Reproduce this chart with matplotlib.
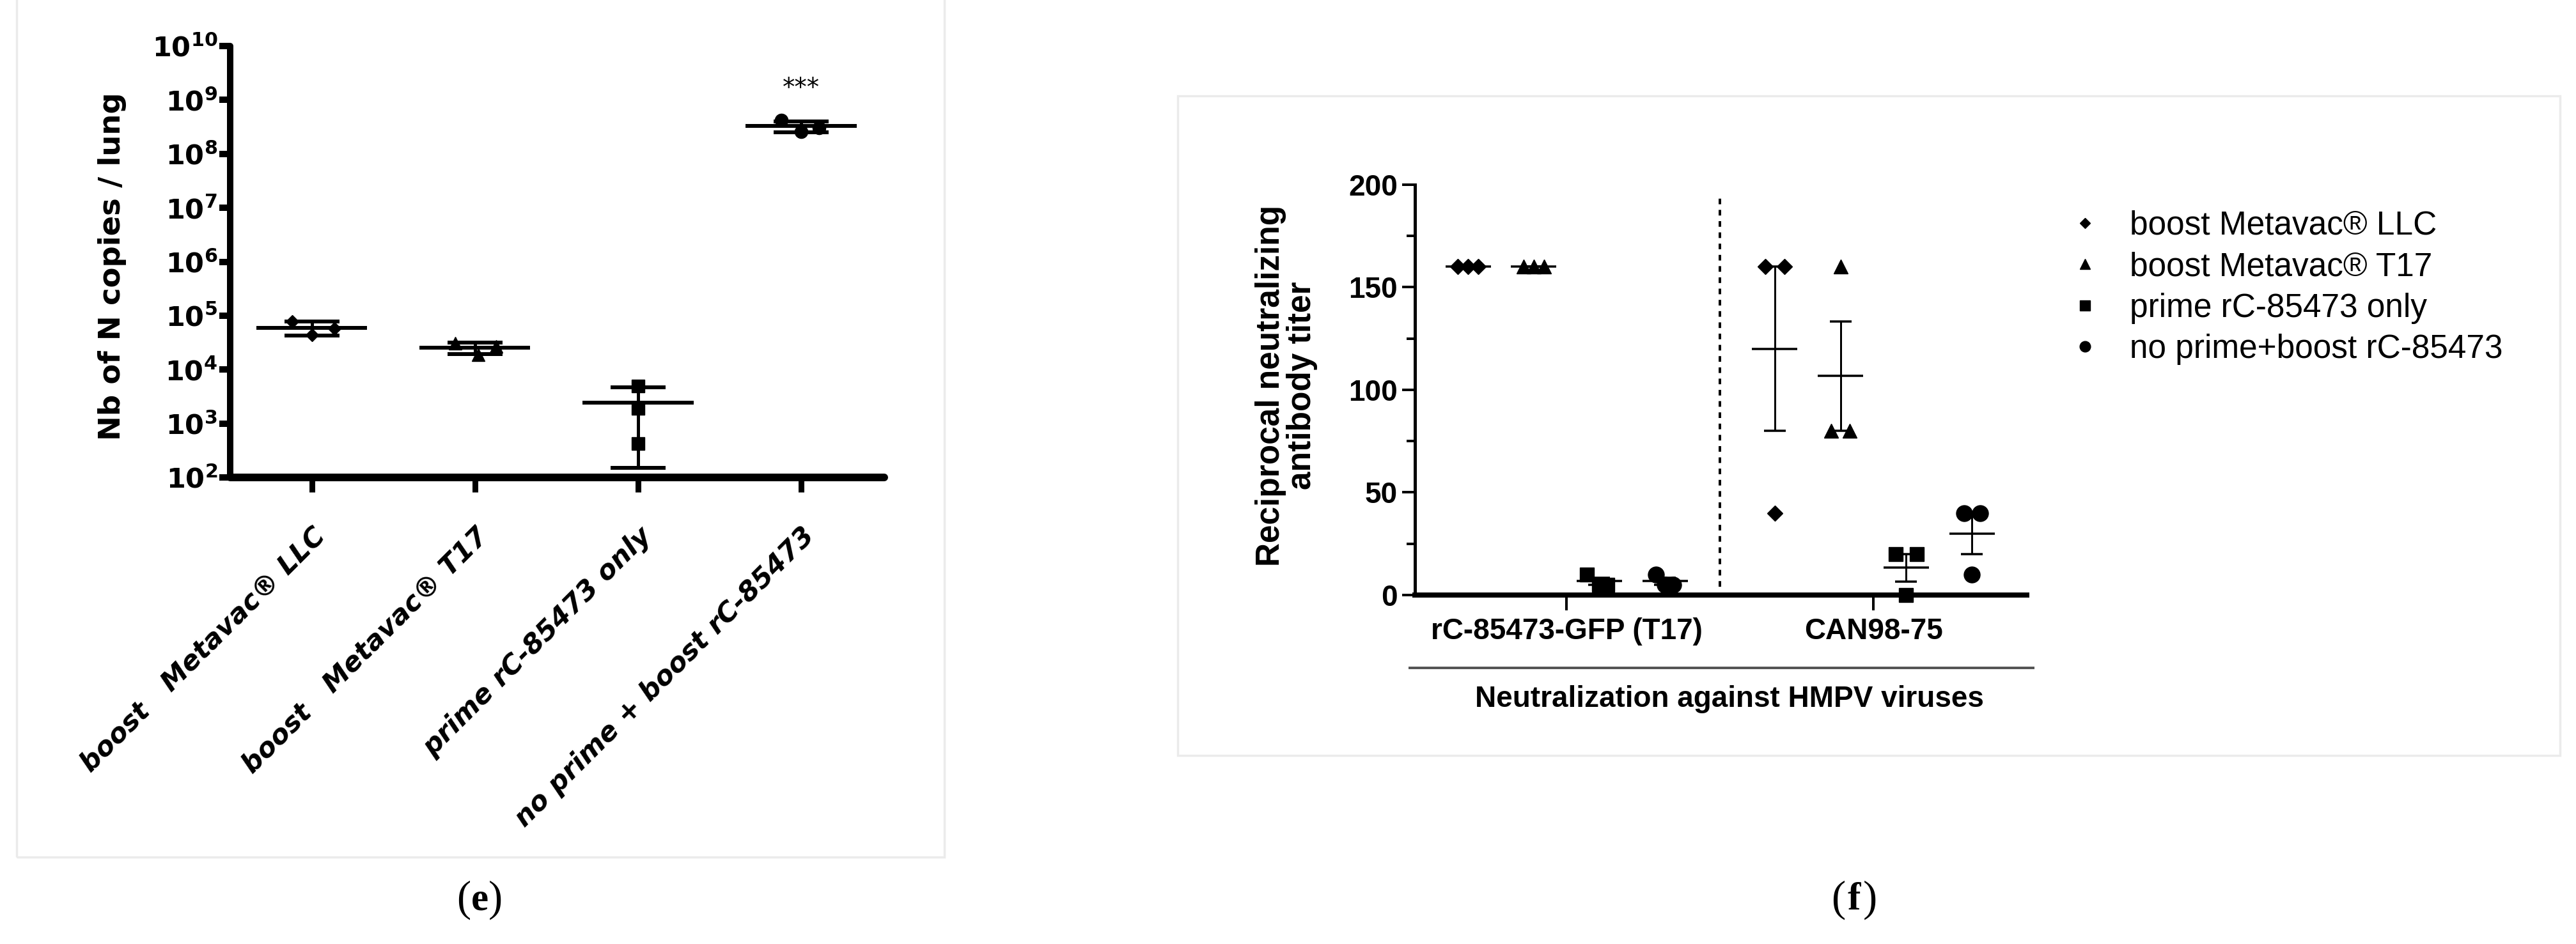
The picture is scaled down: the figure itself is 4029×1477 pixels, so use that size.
import matplotlib
matplotlib.use('Agg')
import matplotlib.pyplot as plt
from matplotlib.lines import Line2D
from matplotlib.patches import Rectangle
from matplotlib.ticker import NullLocator

plt.rcParams['mathtext.fontset'] = 'dejavusans'

# ---------------- panel (e) data ----------------
e_groups = ['boost   Metavac® LLC', 'boost   Metavac® T17',
            'prime rC-85473 only', 'no prime + boost rC-85473']
e_markers = ['D', '^', 's', 'o']
e_marker_sizes = [10.5, 14.5, 14, 14.5]
e_points = [[7.8e4, 4.4e4, 5.8e4],
            [3.1e4, 1.9e4, 2.7e4],
            [5.0e3, 1.9e3, 4.3e2],
            [4.2e8, 2.6e8, 3.0e8]]
e_jitter = [[-0.12, 0.0, 0.14],
            [-0.12, 0.02, 0.13],
            [0.0, 0.0, 0.0],
            [-0.12, 0.0, 0.11]]
e_mean = [6.0e4, 2.57e4, 2.45e3, 3.27e8]
e_err = [1.7e4, 0.61e4, 2.3e3, 0.75e8]
e_yticks = [1e2, 1e3, 1e4, 1e5, 1e6, 1e7, 1e8, 1e9, 1e10]
e_ytick_labels = [r'$\mathbf{10^{2}}$', r'$\mathbf{10^{3}}$', r'$\mathbf{10^{4}}$',
                  r'$\mathbf{10^{5}}$', r'$\mathbf{10^{6}}$', r'$\mathbf{10^{7}}$',
                  r'$\mathbf{10^{8}}$', r'$\mathbf{10^{9}}$', r'$\mathbf{10^{10}}$']
e_signif = '***'
e_signif_y = 1.64e9

# ---------------- panel (f) data ----------------
f_viruses = ['rC-85473-GFP (T17)', 'CAN98-75']
f_series = ['boost Metavac® LLC', 'boost Metavac® T17',
            'prime rC-85473 only', 'no prime+boost rC-85473']
f_markers = ['D', '^', 's', 'o']
f_marker_sizes = [12.5, 16, 15.5, 18]
f_legend_sizes = [8.5, 12, 11, 12]
f_offsets = [-0.321, -0.107, 0.107, 0.321]
# values[series][virus]
f_values = [[[160, 160, 160], [160, 40, 160]],
            [[160, 160, 160], [80, 160, 80]],
            [[10, 5, 5], [20, 0, 20]],
            [[10, 5, 5], [40, 10, 40]]]
f_jitter = [[[-0.033, 0.0, 0.033], [-0.032, 0.0, 0.032]],
            [[-0.033, 0.0, 0.033], [-0.03, 0.0, 0.03]],
            [[-0.04, 0.0, 0.027], [-0.034, 0.0, 0.034]],
            [[-0.03, 0.0, 0.027], [-0.026, 0.0, 0.026]]]
f_mean = [[160, 120], [160, 106.7], [6.7, 13.3], [6.7, 30]]
f_sem = [[0, 40], [0, 26.7], [1.7, 6.7], [1.7, 10]]
f_yticks = [0, 50, 100, 150, 200]
f_yticks_minor = [25, 75, 125, 175]

# ---------------- figure ----------------
W, H, DPI = 4030, 1477, 100
PT = 72.0 / DPI  # points per pixel


def fx(p):
    return p / W


def fy(p):
    return 1 - p / H


fig = plt.figure(figsize=(W / DPI, H / DPI), dpi=DPI)
fig.patch.set_facecolor('white')

# panel frames
fig.add_artist(Rectangle((fx(26), fy(1341)), fx(1477) - fx(26), fy(-10) - fy(1341),
                         transform=fig.transFigure, fill=False, ec='#ebebeb', lw=2.5))
fig.add_artist(Rectangle((fx(1842), fy(1182)), fx(4004) - fx(1842), fy(150) - fy(1182),
                         transform=fig.transFigure, fill=False, ec='#ebebeb', lw=2.5))

# ================= panel (e) =================
ax1 = fig.add_axes([fx(360), fy(747), (1383 - 360) / W, (747 - 72) / H])
ax1.set_yscale('log')
ax1.set_ylim(1e2, 1e10)
ax1.set_xlim(-0.5, 3.51)
for s in ['top', 'right']:
    ax1.spines[s].set_visible(False)
ax1.spines['left'].set_linewidth(10 * PT)
ax1.spines['bottom'].set_linewidth(12 * PT)
ax1.spines['left'].set_capstyle('round')
ax1.spines['bottom'].set_capstyle('round')

for i in range(len(e_groups)):
    ax1.errorbar(i, e_mean[i], yerr=e_err[i], fmt='none', ecolor='black',
                 elinewidth=5 * PT, capsize=31, capthick=6 * PT, zorder=2)
    ax1.hlines(e_mean[i], i - 0.34, i + 0.34, color='black', lw=6 * PT, zorder=3)
    xs = [i + j for j in e_jitter[i]]
    ax1.plot(xs, e_points[i], ls='none', marker=e_markers[i], ms=e_marker_sizes[i],
             color='black', zorder=4)

ax1.text(3, e_signif_y, e_signif, ha='center', va='center', fontsize=28,
         family='DejaVu Sans')

ax1.set_yticks(e_yticks)
ax1.set_yticklabels(e_ytick_labels)
ax1.yaxis.set_minor_locator(NullLocator())
ax1.tick_params(axis='y', which='major', length=17 * PT, width=10 * PT, pad=2,
                labelsize=31)
ax1.set_xticks(range(len(e_groups)))
ax1.set_xticklabels(e_groups)
ax1.tick_params(axis='x', which='major', length=23 * PT, width=9 * PT, pad=34,
                labelsize=30.5)
for lab in ax1.get_xticklabels():
    lab.set_rotation(45)
    lab.set_ha('right')
    lab.set_va('top')
    lab.set_rotation_mode('anchor')
    lab.set_family('DejaVu Sans')
    lab.set_weight('bold')
    lab.set_style('italic')

fig.text(fx(176), fy(417), 'Nb of N copies / lung', rotation=90, ha='center',
         va='center', fontsize=33.5, weight='bold', family='DejaVu Sans')

# ================= panel (f) =================
ax2 = fig.add_axes([fx(2213), fy(931), (3170 - 2213) / W, (931 - 289) / H])
ax2.set_xlim(-0.494, 1.5)
ax2.set_ylim(0, 200)
for s in ['top', 'right']:
    ax2.spines[s].set_visible(False)
ax2.spines['left'].set_linewidth(5 * PT)
ax2.spines['bottom'].set_linewidth(8 * PT)

handles = []
for si in range(len(f_series)):
    for vi in range(len(f_viruses)):
        xc = vi + f_offsets[si]
        ax2.errorbar(xc, f_mean[si][vi], yerr=f_sem[si][vi], fmt='none',
                     ecolor='black', elinewidth=3 * PT, capsize=12.5,
                     capthick=3.5 * PT, zorder=2)
        ax2.hlines(f_mean[si][vi], xc - 0.074, xc + 0.074, color='black',
                   lw=3.5 * PT, zorder=3)
        xs = [xc + j for j in f_jitter[si][vi]]
        ax2.plot(xs, f_values[si][vi], ls='none', marker=f_markers[si],
                 ms=f_marker_sizes[si], color='black', zorder=4, clip_on=False)
    handles.append(Line2D([], [], ls='none', marker=f_markers[si],
                          ms=f_legend_sizes[si], color='black'))

ax2.vlines(0.5, 4, 195, colors='black', linestyles=(0, (2.2, 2.2)), lw=4 * PT)

ax2.set_yticks(f_yticks)
ax2.set_yticks(f_yticks_minor, minor=True)
ax2.set_yticklabels([str(v) for v in f_yticks])
ax2.tick_params(axis='y', which='major', length=20 * PT, width=4 * PT, pad=5,
                labelsize=33)
ax2.tick_params(axis='y', which='minor', length=13 * PT, width=4 * PT)
ax2.set_xticks(range(len(f_viruses)))
ax2.set_xticklabels(f_viruses)
ax2.tick_params(axis='x', which='major', length=24 * PT, width=4 * PT, pad=8,
                labelsize=33)
for lab in ax2.get_xticklabels() + ax2.get_yticklabels():
    lab.set_family('Liberation Sans')
    lab.set_weight('bold')

fig.text(fx(2012), fy(603), 'Reciprocal neutralizing\nantibody titer', rotation=90,
         ha='center', va='center', multialignment='center', fontsize=37,
         weight='bold', family='Liberation Sans', linespacing=1.0)

fig.add_artist(Line2D([fx(2205), fx(3180)], [fy(1045), fy(1045)],
                      transform=fig.transFigure, color='#555555', lw=4 * PT))
fig.text(fx(2705), fy(1094), 'Neutralization against HMPV viruses', ha='center',
         va='center', fontsize=33, weight='bold', family='Liberation Sans')

ax2.legend(handles, f_series, loc='center left',
           bbox_to_anchor=(fx(3240), fy(450)), bbox_transform=fig.transFigure,
           frameon=False, prop={'family': 'Liberation Sans', 'size': 37},
           handlelength=0.8, handletextpad=0.98, labelspacing=0.3,
           borderpad=0, borderaxespad=0)

# ---------------- panel letters ----------------
for cx, letter in [(750, 'e'), (2900, 'f')]:
    fig.text(fx(cx), fy(1408), letter, ha='center', va='center', fontsize=44,
             weight='bold', family='Liberation Serif')
    fig.text(fx(cx - 14), fy(1408), '(', ha='right', va='center', fontsize=48,
             family='Liberation Serif')
    fig.text(fx(cx + 14), fy(1408), ')', ha='left', va='center', fontsize=48,
             family='Liberation Serif')

fig.savefig('out.png', dpi=DPI, facecolor='white')
